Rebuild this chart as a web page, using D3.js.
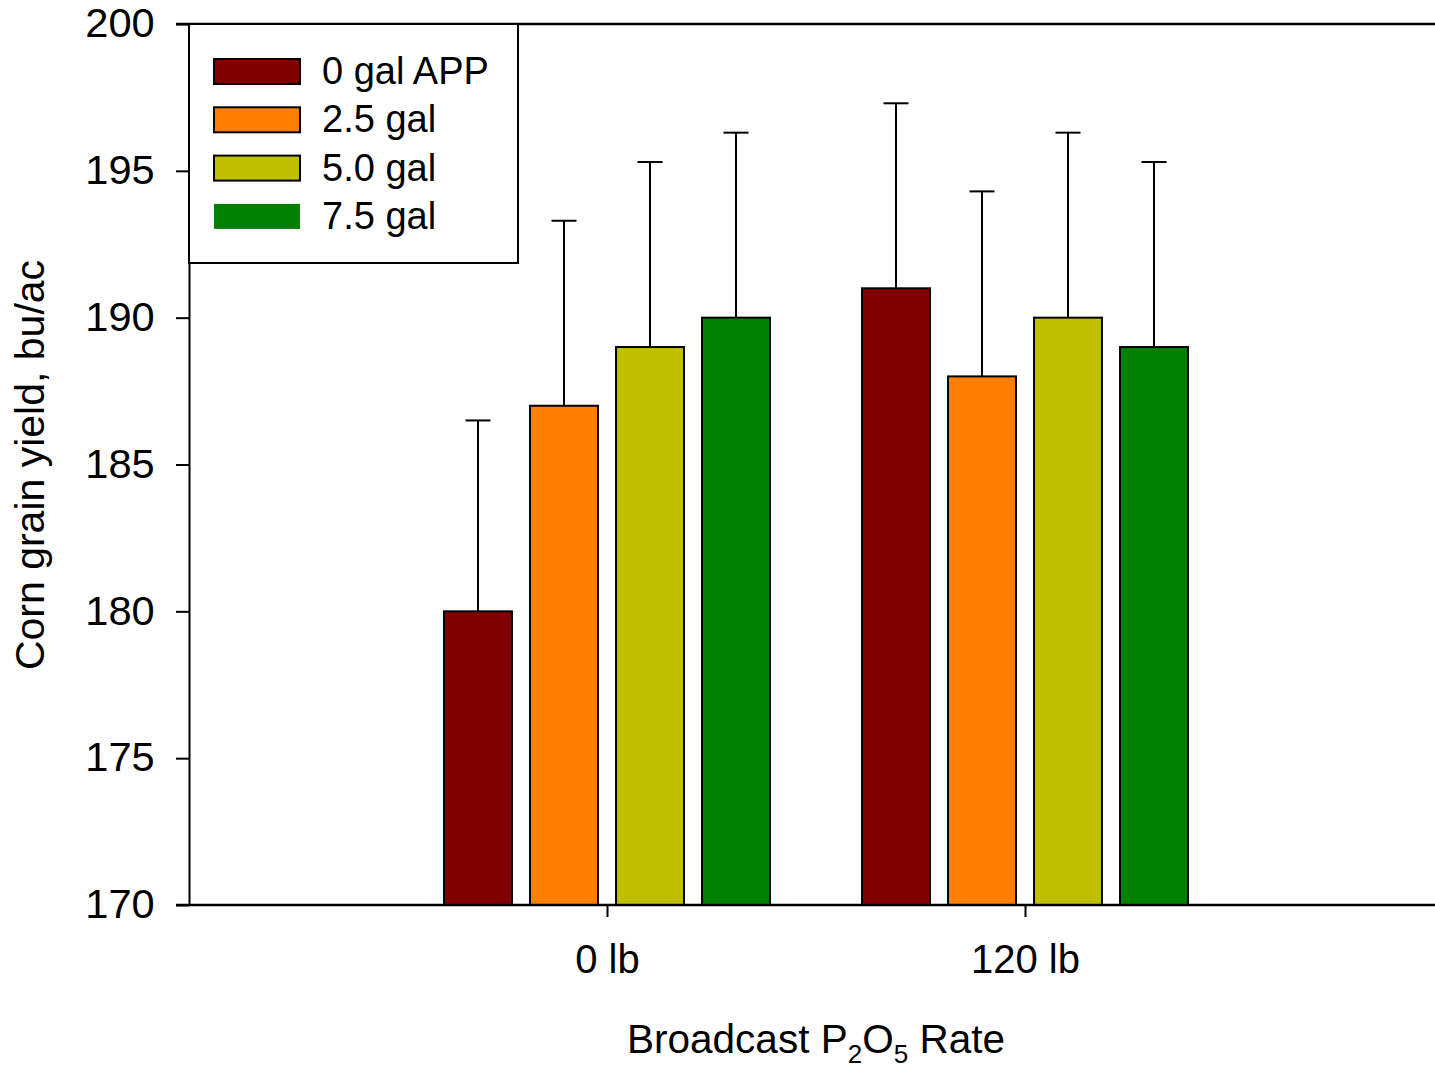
<!DOCTYPE html>
<html>
<head>
<meta charset="utf-8">
<script src="https://cdn.jsdelivr.net/npm/d3@7"></script>
<style>
  body { margin: 0; background: #fff; }
  text { font-family: "Liberation Sans", Arial, sans-serif; fill: #000; }
</style>
</head>
<body>
<div id="container"></div>
<script>
/* DATA */
const rates = ["0 lb", "120 lb"];
const series = ["0 gal APP", "2.5 gal", "5.0 gal", "7.5 gal"];
const yields0 = [180, 187, 189, 190];   // 0 lb P2O5
const yields120 = [191, 188, 190, 189]; // 120 lb P2O5
const errors0 = [6.5, 6.3, 6.3, 6.3];
const errors120 = [6.3, 6.3, 6.3, 6.3];
const yTicks = [170, 175, 180, 185, 190, 195, 200];
const colors = ["#800000", "#FF8000", "#C0C000", "#008000"];

/* CONSTANTS */
const width = 1435, height = 1071;
const margin = { top: 24, left: 189, bottom: 166 };
const plotBottom = height - margin.bottom; // 905

const rows = [
  ...series.map((s, i) => ({ rate: rates[0], s, v: yields0[i], e: errors0[i] })),
  ...series.map((s, i) => ({ rate: rates[1], s, v: yields120[i], e: errors120[i] }))
];

const svg = d3.select("#container")
  .append("svg")
  .attr("width", width)
  .attr("height", height);

// SCALES
const x0 = d3.scalePoint()
  .domain(rates)
  .range([margin.left, 1443])
  .padding(1);

const x1 = d3.scaleBand()
  .domain(series)
  .range([-172, 172])
  .paddingInner(0.21)
  .paddingOuter(0.105);

const y = d3.scaleLinear()
  .domain([170, 200])
  .range([plotBottom, margin.top]);

const color = d3.scaleOrdinal().domain(series).range(colors);

// ERROR BARS (drawn under the bars)
const err = svg.append("g")
  .selectAll("g.err")
  .data(rows)
  .join("g")
  .attr("class", "err")
  .attr("transform", d => `translate(${x0(d.rate) + x1(d.s) + x1.bandwidth() / 2},0)`);

err.append("line")
  .attr("y1", d => y(d.v))
  .attr("y2", d => y(d.v + d.e))
  .attr("stroke", "#000")
  .attr("stroke-width", 2);

err.append("line")
  .attr("x1", -12.5)
  .attr("x2", 12.5)
  .attr("y1", d => y(d.v + d.e))
  .attr("y2", d => y(d.v + d.e))
  .attr("stroke", "#000")
  .attr("stroke-width", 2);

// BARS
svg.append("g")
  .selectAll("rect.bar")
  .data(rows)
  .join("rect")
  .attr("class", "bar")
  .attr("x", d => x0(d.rate) + x1(d.s))
  .attr("y", d => y(d.v))
  .attr("width", x1.bandwidth())
  .attr("height", d => y(170) - y(d.v))
  .attr("fill", d => color(d.s))
  .attr("stroke", "#000")
  .attr("stroke-width", 2);

// Y AXIS
const yAxis = svg.append("g")
  .attr("transform", `translate(${margin.left},0)`)
  .call(d3.axisLeft(y).tickValues(yTicks).tickSize(13).tickSizeOuter(0).tickPadding(20));
yAxis.select(".domain").attr("stroke", "#000").attr("stroke-width", 2);
yAxis.selectAll(".tick line").attr("stroke", "#000").attr("stroke-width", 2);
yAxis.selectAll(".tick text")
  .style("font-size", "40px")
  .attr("font-family", null)
  .attr("transform", "scale(1.04,1)");

// X AXIS
const xAxis = svg.append("g")
  .attr("transform", `translate(0,${plotBottom})`)
  .call(d3.axisBottom(x0).tickSize(12).tickPadding(28));
xAxis.select(".domain").remove();
xAxis.selectAll(".tick line").attr("stroke", "#000").attr("stroke-width", 2);
xAxis.selectAll(".tick text")
  .style("font-size", "40px")
  .attr("font-family", null);

// FRAME LINES (top and bottom)
svg.append("line")
  .attr("x1", 176).attr("x2", width)
  .attr("y1", y(200)).attr("y2", y(200))
  .attr("stroke", "#000").attr("stroke-width", 2.5);
svg.append("line")
  .attr("x1", 176).attr("x2", width)
  .attr("y1", y(170)).attr("y2", y(170))
  .attr("stroke", "#000").attr("stroke-width", 2.5);

// AXIS TITLES
svg.append("text")
  .attr("transform", "translate(44,465) rotate(-90)")
  .attr("text-anchor", "middle")
  .style("font-size", "41px")
  .text("Corn grain yield, bu/ac");

const xTitle = svg.append("text")
  .attr("x", 816)
  .attr("y", 1053)
  .attr("text-anchor", "middle")
  .style("font-size", "40.5px");
xTitle.append("tspan").text("Broadcast P");
xTitle.append("tspan").attr("dy", 10).style("font-size", "26px").text("2");
xTitle.append("tspan").attr("dy", -10).text("O");
xTitle.append("tspan").attr("dy", 10).style("font-size", "26px").text("5");
xTitle.append("tspan").attr("dy", -10).text(" Rate");

// LEGEND
const legend = svg.append("g").attr("class", "legend");
legend.append("rect")
  .attr("x", margin.left)
  .attr("y", y(200))
  .attr("width", 329)
  .attr("height", 239)
  .attr("fill", "#fff")
  .attr("stroke", "#000")
  .attr("stroke-width", 2);

const legendItems = legend.selectAll(".legend-item")
  .data(series)
  .join("g")
  .attr("class", "legend-item")
  .attr("transform", (d, i) => `translate(214, ${59 + i * 48.3})`);

legendItems.append("rect")
  .attr("width", 86)
  .attr("height", 25)
  .attr("fill", d => color(d))
  .attr("stroke", (d, i) => i === 3 ? "none" : "#000")
  .attr("stroke-width", 2);

legendItems.append("text")
  .attr("x", 108)
  .attr("y", 25)
  .style("font-size", "38px")
  .text(d => d);
</script>
</body>
</html>
